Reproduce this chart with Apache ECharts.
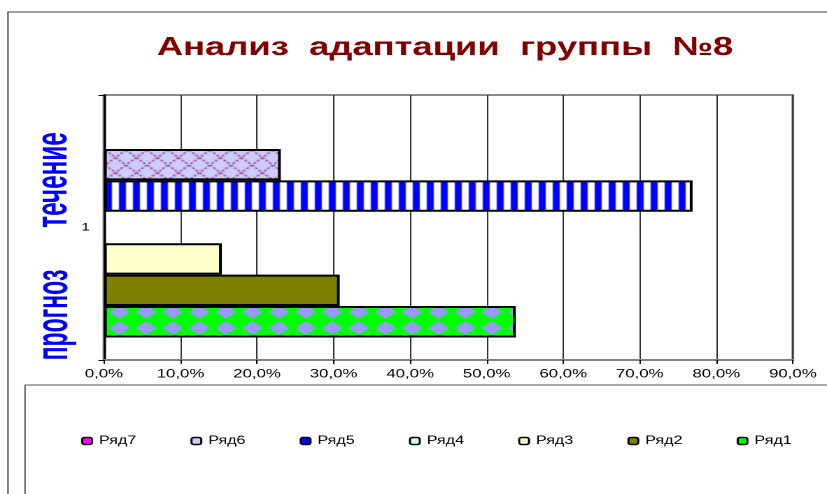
<!DOCTYPE html>
<html>
<head>
<meta charset="utf-8">
<script src="https://cdn.jsdelivr.net/npm/echarts@6/dist/echarts.min.js"></script>
<style>
  html, body { margin: 0; padding: 0; background: #fff; overflow: hidden; }
  /* the source picture is stretched sideways, so the chart is too */
  #chart { width: 591px; height: 494px; transform: scaleX(1.3993); transform-origin: 0 0; }
</style>
</head>
<body>
<div id="chart"></div>
<script>
const titleText = 'Анализ  адаптации  группы  №8';
const categories = ['1'];
const seriesNames = ['Ряд1', 'Ряд2', 'Ряд3', 'Ряд4', 'Ряд5', 'Ряд6', 'Ряд7'];
const seriesValues = [53.8, 30.8, 15.4, 0, 76.9, 23.1, 0];
const legendOrder = ['Ряд7', 'Ряд6', 'Ряд5', 'Ряд4', 'Ряд3', 'Ряд2', 'Ряд1'];
const axisTitles = ['прогноз', 'течение'];
const xMin = 0, xMax = 90, xStep = 10;

// small canvas tiles for the hatched fills
function tile(w, h, draw) {
  const c = document.createElement('canvas');
  c.width = w; c.height = h;
  draw(c.getContext('2d'), w, h);
  return c;
}
const diamonds = tile(19, 16, (g, w, h) => {
  g.fillStyle = '#00ff00'; g.fillRect(0, 0, w, h);
  g.fillStyle = '#9999ff';
  g.beginPath();
  g.moveTo(w / 2, 1); g.lineTo(w - 2, h / 2); g.lineTo(w / 2, h - 1); g.lineTo(2, h / 2);
  g.closePath(); g.fill();
});
const stripes = tile(10, 10, (g, w, h) => {
  g.fillStyle = '#ffffff'; g.fillRect(0, 0, w, h);
  g.fillStyle = '#0000ff'; g.fillRect(5, 0, 5, h);
});
const trellis = tile(15, 15, (g, w, h) => {
  g.fillStyle = '#ccccff'; g.fillRect(0, 0, w, h);
  g.strokeStyle = '#993366'; g.lineWidth = 1.3;
  g.setLineDash([2, 1.5]);
  g.beginPath();
  g.moveTo(0, 0); g.lineTo(w, h);
  g.moveTo(w, 0); g.lineTo(0, h);
  g.stroke();
});

const fills = {
  'Ряд1': { image: diamonds, repeat: 'repeat' },
  'Ряд2': '#808000',
  'Ряд3': '#ffffcc',
  'Ряд4': '#ccffff',
  'Ряд5': { image: stripes, repeat: 'repeat' },
  'Ряд6': { image: trellis, repeat: 'repeat' },
  'Ряд7': '#ff00ff'
};
const swatches = {
  'Ряд1': '#00ff00', 'Ряд2': '#808000', 'Ряд3': '#ffffcc', 'Ряд4': '#ccffff',
  'Ряд5': '#0000ff', 'Ряд6': '#ccccff', 'Ряд7': '#ff00ff'
};

const chart = echarts.init(document.getElementById('chart'), null, { devicePixelRatio: 2 });

// echarts stacks the first series at the top of the band, Excel at the bottom
const order = seriesNames.map((n, i) => i).reverse();

const option = {
  backgroundColor: '#fff',
  animation: false,
  title: {
    text: titleText,
    left: 313,
    textAlign: 'center',
    top: 30,
    textStyle: { fontFamily: 'Arial', fontSize: 26, fontWeight: 'bold', color: '#800000' }
  },
  legend: {
    data: legendOrder.map(n => ({
      name: n,
      itemStyle: { color: swatches[n], borderColor: '#000', borderWidth: 1.5 }
    })),
    left: 58,
    top: 435,
    padding: 0,
    icon: 'roundRect',
    itemWidth: 7,
    itemHeight: 7,
    itemGap: 38.7,
    textStyle: { fontFamily: 'Arial', fontSize: 11.5, color: '#000' }
  },
  grid: {
    left: 74.3, right: 24.4, top: 95, bottom: 134,
    show: true, borderColor: '#8a8a8a', borderWidth: 2, backgroundColor: '#fff'
  },
  xAxis: {
    type: 'value',
    min: xMin, max: xMax, interval: xStep,
    axisLine: { show: true, lineStyle: { color: '#808080', width: 2 } },
    axisTick: { show: true, length: 4, lineStyle: { color: '#000' } },
    axisLabel: {
      margin: 8, fontFamily: 'Arial', fontSize: 12, color: '#000',
      formatter: v => v.toFixed(1).replace('.', ',') + '%'
    },
    splitLine: { show: true, lineStyle: { color: '#333', width: 1 } }
  },
  yAxis: {
    type: 'category',
    data: categories,
    axisLine: { lineStyle: { color: '#000', width: 1.5 } },
    axisTick: { show: true, length: 4, lineStyle: { color: '#000' } },
    axisLabel: { margin: 10, fontFamily: 'Arial', fontSize: 11, color: '#000' }
  },
  series: order.map(i => ({
    name: seriesNames[i],
    type: 'bar',
    // zero bars get no outline, as in the source
    data: [seriesValues[i] > 0 ? seriesValues[i]
                               : { value: seriesValues[i], itemStyle: { borderWidth: 0 } }],
    barGap: '0%',
    barCategoryGap: '17%',
    itemStyle: { color: fills[seriesNames[i]], borderColor: '#000', borderWidth: 2 }
  })),
  graphic: [
    { type: 'rect', z: -10, silent: true,
      shape: { x: 5.7, y: 12, width: 700, height: 600 },
      style: { fill: 'none', stroke: '#404040', lineWidth: 1 } },
    { type: 'rect', z: -10, silent: true,
      shape: { x: 17.9, y: 385, width: 700, height: 200 },
      style: { fill: 'none', stroke: '#555', lineWidth: 1 } },
    { type: 'text', x: 39.3, y: 315, rotation: Math.PI / 2, scaleX: 0.72,
      style: { text: axisTitles[0], fill: '#0000ff', fontSize: 32, fontWeight: 'bold',
               fontFamily: 'Arial', align: 'center', verticalAlign: 'middle' } },
    { type: 'text', x: 38.9, y: 180, rotation: Math.PI / 2, scaleX: 0.76,
      style: { text: axisTitles[1], fill: '#0000ff', fontSize: 32, fontWeight: 'bold',
               fontFamily: 'Arial', align: 'center', verticalAlign: 'middle' } }
  ]
};

chart.setOption(option);
</script>
</body>
</html>
